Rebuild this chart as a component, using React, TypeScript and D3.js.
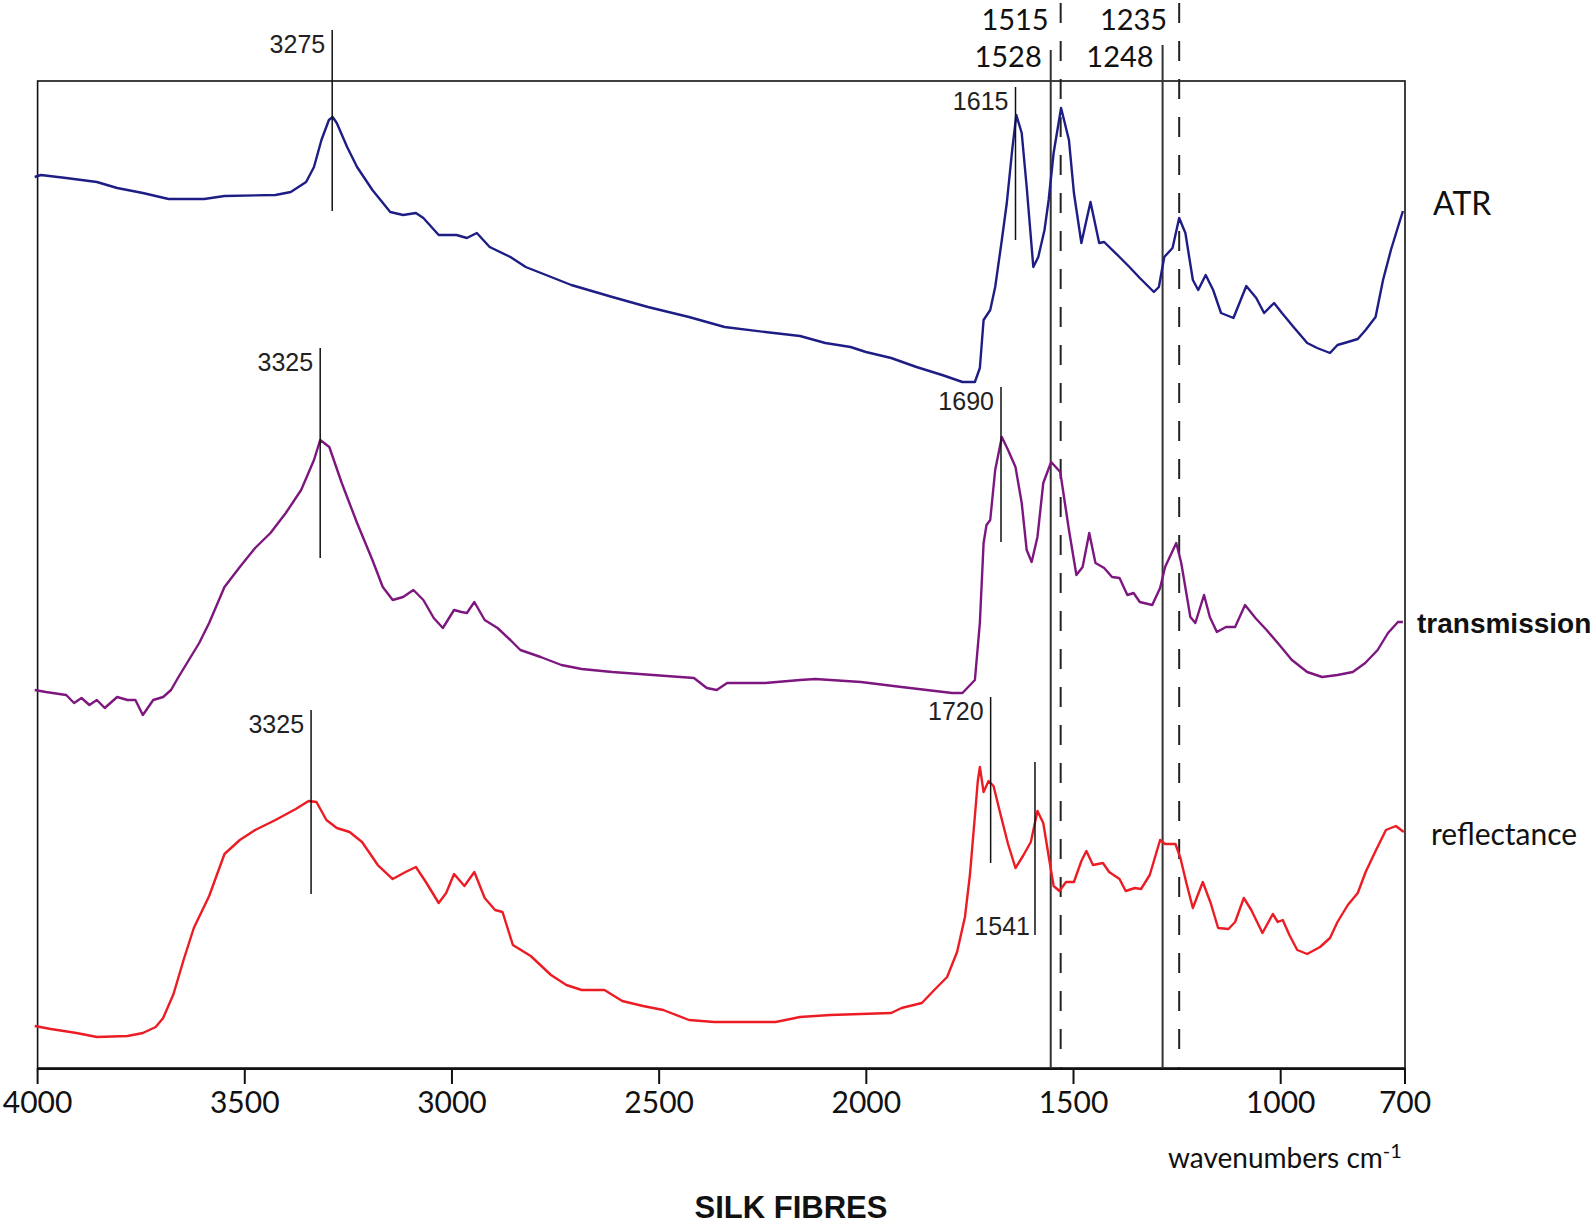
import React from 'react'
import { scaleLinear, line } from 'd3'

// wavenumber (cm-1) and stacked intensity (a.u.)
const atrWn = [4007, 3992, 3931, 3857, 3808, 3746, 3684, 3598, 3549, 3426, 3389, 3352, 3333, 3315, 3297, 3288, 3278, 3253, 3229, 3192, 3149, 3118, 3087, 3069, 3032, 2989, 2964, 2940, 2909, 2859, 2822, 2773, 2712, 2613, 2527, 2428, 2342, 2244, 2160, 2099, 2038, 2001, 1940, 1879, 1817, 1768, 1738, 1726, 1717, 1701, 1689, 1673, 1661, 1648, 1638, 1625, 1613, 1597, 1585, 1570, 1560, 1548, 1530, 1511, 1499, 1481, 1459, 1438, 1426, 1389, 1365, 1340, 1306, 1294, 1281, 1261, 1245, 1230, 1212, 1199, 1181, 1163, 1144, 1114, 1083, 1059, 1040, 1016, 997, 967, 936, 912, 881, 863, 838, 814, 795, 771, 753, 734, 717, 705]
const atrVal = [891, 893, 890, 886, 880, 875, 869, 869, 872, 873, 876, 886, 901, 928, 948, 951, 945, 921, 901, 878, 856, 853, 855, 850, 833, 833, 830, 835, 821, 811, 801, 793, 783, 771, 761, 751, 741, 736, 732, 725, 721, 716, 710, 701, 693, 686, 686, 700, 748, 758, 781, 828, 865, 918, 953, 935, 881, 801, 811, 838, 868, 915, 960, 928, 875, 825, 866, 825, 826, 811, 801, 790, 776, 781, 811, 820, 850, 835, 788, 778, 793, 778, 755, 750, 782, 770, 755, 765, 755, 740, 725, 720, 715, 723, 726, 729, 738, 751, 788, 818, 841, 857]

const transWn = [4007, 3980, 3931, 3912, 3894, 3875, 3857, 3838, 3808, 3783, 3764, 3746, 3721, 3697, 3678, 3660, 3635, 3610, 3586, 3549, 3512, 3475, 3438, 3401, 3364, 3333, 3318, 3296, 3266, 3229, 3192, 3167, 3143, 3118, 3093, 3069, 3044, 3022, 2995, 2977, 2964, 2946, 2921, 2890, 2859, 2835, 2786, 2736, 2687, 2613, 2515, 2416, 2385, 2361, 2336, 2244, 2160, 2123, 2013, 1915, 1854, 1793, 1768, 1738, 1726, 1717, 1710, 1701, 1689, 1673, 1658, 1640, 1625, 1613, 1601, 1587, 1573, 1554, 1532, 1511, 1493, 1478, 1462, 1447, 1426, 1407, 1389, 1370, 1355, 1340, 1310, 1291, 1279, 1252, 1240, 1218, 1206, 1185, 1171, 1154, 1132, 1110, 1086, 1061, 1034, 1003, 973, 936, 900, 863, 826, 796, 766, 741, 717, 705]
const transVal = [378, 376, 373, 365, 370, 363, 368, 360, 371, 368, 368, 353, 368, 371, 378, 391, 408, 425, 445, 481, 501, 520, 535, 555, 578, 608, 628, 621, 585, 545, 508, 481, 468, 471, 478, 468, 450, 440, 458, 456, 455, 466, 448, 440, 428, 418, 411, 403, 399, 396, 393, 390, 380, 378, 385, 385, 388, 389, 386, 381, 378, 375, 375, 388, 445, 525, 543, 548, 598, 631, 618, 601, 565, 518, 506, 531, 585, 606, 596, 538, 493, 501, 535, 505, 500, 491, 490, 473, 475, 466, 463, 480, 501, 525, 505, 451, 445, 473, 451, 436, 441, 441, 463, 450, 438, 423, 408, 396, 391, 393, 396, 405, 418, 435, 446, 446]

const reflWn = [4007, 3968, 3906, 3857, 3783, 3746, 3715, 3697, 3672, 3647, 3623, 3586, 3549, 3512, 3475, 3426, 3377, 3346, 3327, 3303, 3278, 3247, 3217, 3179, 3143, 3112, 3087, 3063, 3032, 3014, 2995, 2970, 2946, 2921, 2896, 2878, 2853, 2810, 2761, 2724, 2687, 2632, 2589, 2539, 2490, 2428, 2367, 2219, 2160, 2087, 1940, 1915, 1866, 1836, 1805, 1781, 1762, 1750, 1740, 1731, 1726, 1717, 1705, 1693, 1677, 1658, 1640, 1622, 1603, 1587, 1573, 1558, 1548, 1534, 1518, 1499, 1481, 1469, 1453, 1429, 1414, 1389, 1374, 1352, 1337, 1316, 1291, 1279, 1254, 1242, 1227, 1212, 1188, 1169, 1151, 1126, 1110, 1089, 1071, 1044, 1019, 1007, 995, 979, 960, 936, 905, 881, 863, 838, 814, 795, 771, 746, 722, 703]
const reflVal = [42, 39, 35, 31, 32, 35, 41, 50, 74, 109, 140, 172, 214, 228, 238, 248, 259, 267, 266, 248, 240, 236, 226, 203, 189, 196, 201, 186, 165, 175, 194, 182, 196, 170, 158, 156, 123, 112, 93, 83, 78, 78, 67, 62, 58, 48, 46, 46, 51, 53, 55, 60, 65, 78, 91, 116, 151, 193, 242, 287, 301, 276, 287, 282, 255, 224, 200, 212, 226, 257, 245, 207, 182, 177, 186, 186, 207, 217, 203, 205, 196, 189, 177, 180, 179, 193, 228, 224, 224, 210, 184, 160, 186, 165, 140, 139, 146, 170, 158, 135, 154, 146, 148, 133, 118, 114, 121, 130, 146, 163, 175, 196, 217, 238, 242, 236]

const seriesNames = ['ATR', 'transmission', 'reflectance']
const seriesColors = ['#1d1d85', '#7d177f', '#ec1c24']

const tickValues = [4000, 3500, 3000, 2500, 2000, 1500, 1000, 700]

// short peak markers: wavenumber position, label, top/bottom of the marker in a.u.
const peakAt = [3289, 3318, 3340, 1640, 1675, 1700, 1593]
const peakLabel = ['3275', '3325', '3325', '1615', '1690', '1720', '1541']
const peakTop = [1038, 720, 358, 981, 681, 371, 306]
const peakBottom = [857, 510, 174, 828, 526, 205, 133]

// long reference lines across all spectra
const refAt = [1555, 1531, 1285, 1245]
const refLabel = ['1528', '1515', '1248', '1235']
const refDashed = [false, true, false, true]
const refTop = [1018, 1065, 1023, 1065]

const W = 1595
const H = 1229

const App = () => {
  const x = scaleLinear().domain([4000, 700]).range([37.6, 1405])
  const y = scaleLinear().domain([0, 987]).range([1068, 81])

  const path = line<[number, number]>()
    .x(d => x(d[0]))
    .y(d => y(d[1]))

  const series = [
    atrWn.map((w, i) => [w, atrVal[i]] as [number, number]),
    transWn.map((w, i) => [w, transVal[i]] as [number, number]),
    reflWn.map((w, i) => [w, reflVal[i]] as [number, number]),
  ]

  const labelPos = [
    { x: 1433, y: 215, font: 'Lato, sans-serif', size: 32, weight: 'normal' },
    { x: 1417, y: 633, font: '"Liberation Sans", Arial, sans-serif', size: 28, weight: 'bold' },
    { x: 1431, y: 845, font: 'Lato, sans-serif', size: 30, weight: 'normal' },
  ]

  return (
    <svg width={W} height={H} style={{ position: 'absolute', left: 0, top: 0, background: '#fff' }}>
      <rect x={0} y={0} width={W} height={H} fill="#fff" />

      {/* frame */}
      <rect x={x(4000)} y={y(987)} width={x(700) - x(4000)} height={y(0) - y(987)}
        fill="none" stroke="#111" strokeWidth={1.6} />
      <line x1={x(4000)} x2={x(700)} y1={y(0) + 1} y2={y(0) + 1} stroke="#111" strokeWidth={2} />

      {/* ticks */}
      {tickValues.map(t => (
        <g key={t}>
          <line x1={x(t)} x2={x(t)} y1={y(0)} y2={y(0) + 16} stroke="#111" strokeWidth={2} />
          <text x={x(t)} y={1113} textAnchor="middle" fontFamily="Lato, sans-serif" fontSize={30} fill="#111">{t}</text>
        </g>
      ))}

      <text x={1168} y={1168} fontFamily="Lato, sans-serif" fontSize={28} fill="#111">
        wavenumbers cm<tspan fontSize={20} dy={-10}>-1</tspan>
      </text>
      <text x={791} y={1218} textAnchor="middle" fontFamily='"Liberation Sans", Arial, sans-serif'
        fontWeight="bold" fontSize={31} fill="#111">SILK FIBRES</text>

      {/* long reference lines */}
      {refAt.map((w, i) => (
        <g key={'ref' + i}>
          <line x1={x(w)} x2={x(w)} y1={y(refTop[i])} y2={y(0)}
            stroke={refDashed[i] ? '#222' : '#333'} strokeWidth={2}
            strokeDasharray={refDashed[i] ? '20 18' : undefined} />
          <text x={x(w) - (refDashed[i] ? 12 : 9)} y={refDashed[i] ? 30 : 67} textAnchor="end"
            fontFamily="Lato, sans-serif" fontSize={29} fill="#111">{refLabel[i]}</text>
        </g>
      ))}

      {/* spectra */}
      {series.map((s, i) => (
        <path key={seriesNames[i]} d={path(s) || ''} fill="none" stroke={seriesColors[i]}
          strokeWidth={2.4} strokeLinejoin="round" />
      ))}

      {/* short peak markers */}
      {peakAt.map((w, i) => {
        const atBottom = peakLabel[i] === '1541'
        return (
          <g key={'pk' + i}>
            <line x1={x(w)} x2={x(w)} y1={y(peakTop[i])} y2={y(peakBottom[i])} stroke="#111" strokeWidth={1.5} />
            <text x={x(w) - (atBottom ? 5 : 7)} y={atBottom ? y(peakBottom[i]) : y(peakTop[i]) + 23}
              textAnchor="end" fontFamily='"Liberation Sans", Arial, sans-serif' fontSize={25} fill="#222">
              {peakLabel[i]}
            </text>
          </g>
        )
      })}

      {/* series labels */}
      {seriesNames.map((n, i) => (
        <text key={'lbl' + n} x={labelPos[i].x} y={labelPos[i].y} fontFamily={labelPos[i].font}
          fontSize={labelPos[i].size} fontWeight={labelPos[i].weight} fill="#111">{n}</text>
      ))}
    </svg>
  )
}

export default App
